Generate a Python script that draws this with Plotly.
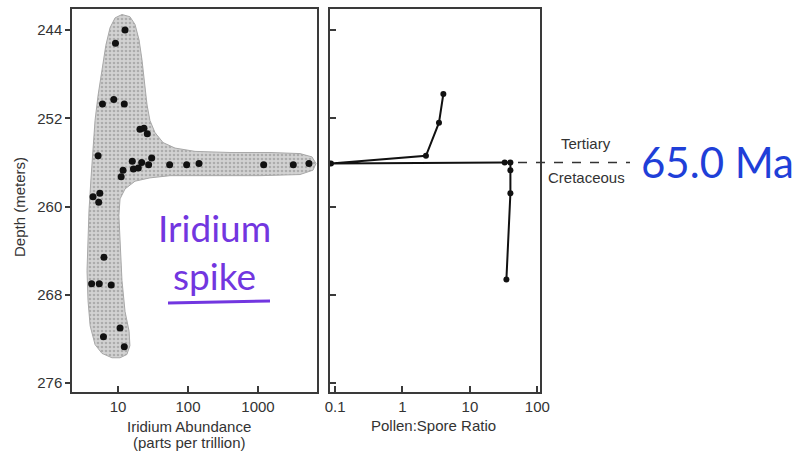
import plotly.graph_objects as go

# ---- data ----
ir_abundance = [12.6, 9.2, 6.0, 8.7, 12.3, 20.6, 23.5, 26.2, 5.2, 16.0, 21.8, 30.3, 27.4,
                16.6, 19.5, 11.8, 11.1, 54.7, 95.7, 143.6, 1205, 3195, 5350, 4.4, 5.5,
                5.3, 6.3, 4.2, 5.4, 8.0, 10.7, 6.2, 12.3]
ir_depth = [244.0, 245.2, 250.7, 250.3, 250.7, 253.0, 252.9, 253.4, 255.4, 255.9, 256.0, 255.6, 256.2,
            256.6, 256.5, 256.7, 257.3, 256.2, 256.2, 256.1, 256.2, 256.2, 256.1, 259.1, 258.8,
            259.6, 264.6, 267.0, 267.0, 267.1, 271.0, 271.8, 272.7]

# envelope (grey band) around iridium values
band_x = [11.4, 14.8, 17.5, 20.0, 22.0, 24.3, 26.0, 28.6, 33.8, 44.0, 65.2, 126, 398, 1484, 3981,
          5906, 6740, 6105, 3981, 1068, 206, 55.3, 28.6, 17.5, 12.6, 10.7, 10.3, 10.7, 11.4, 12.6,
          14.4, 14.8, 13.4, 10.7, 8.2, 5.9, 4.7, 4.0, 3.73, 3.61, 3.73, 3.85, 4.1, 4.4, 4.7, 5.2,
          5.9, 6.7, 7.7, 9.1, 11.4]
band_depth = [242.6, 242.8, 243.5, 244.9, 246.7, 249.0, 250.8, 252.2, 253.3, 254.2, 254.7, 255.0,
              255.1, 255.1, 255.2, 255.5, 256.1, 256.7, 257.1, 257.2, 257.2, 257.2, 257.4, 257.7,
              258.4, 259.3, 260.8, 263.1, 266.7, 269.5, 271.3, 272.6, 273.4, 273.7, 273.7, 273.3,
              272.5, 270.8, 268.5, 265.8, 263.1, 260.4, 257.6, 254.9, 252.2, 249.9, 247.6, 245.4,
              243.8, 242.9, 242.6]

ps_ratio = [4.04, 3.48, 2.23, 0.087, 32.8, 39.9, 39.9, 39.9, 34.8]
ps_depth = [249.8, 252.4, 255.4, 256.1, 256.0, 256.0, 256.7, 258.8, 266.6]

depth_ticks = [244, 252, 260, 268, 276]
ir_ticks = [10, 100, 1000]
ir_ticktext = ["10", "100", "1000"]
ps_ticks = [0.1, 1, 10, 100]
ps_ticktext = ["0.1", "1", "10", "100"]
boundary_depth = 256.0

W, H = 794, 452
FONT = "Liberation Sans, Arial, sans-serif"
AX = "#3a3a3a"

fig = go.Figure()

fig.add_trace(go.Scatter(
    x=band_x, y=band_depth, mode="lines", fill="toself",
    fillcolor="#cdcdcd",
    fillpattern=dict(shape=".", fgcolor="#858585", bgcolor="#d2d2d2", size=4, solidity=0.35),
    line=dict(color="#a8a8a8", width=1), hoverinfo="skip", showlegend=False,
    xaxis="x", yaxis="y"))

fig.add_trace(go.Scatter(
    x=ir_abundance, y=ir_depth, mode="markers",
    marker=dict(color="#111111", size=7), showlegend=False, xaxis="x", yaxis="y"))

fig.add_trace(go.Scatter(
    x=ps_ratio, y=ps_depth, mode="lines+markers",
    line=dict(color="#111111", width=2), marker=dict(color="#111111", size=6),
    showlegend=False, xaxis="x2", yaxis="y2"))

yrange = [276.8, 242.1]
common_ax = dict(showline=True, mirror=True, linecolor=AX, linewidth=1.5, showgrid=False,
                 zeroline=False, ticks="inside", ticklen=6, tickcolor=AX, tickwidth=1.5,
                 tickfont=dict(family=FONT, size=15, color="#333333"), automargin=False)

fig.update_layout(
    width=W, height=H, margin=dict(l=0, r=0, t=0, b=0),
    paper_bgcolor="white", plot_bgcolor="white",
    xaxis=dict(type="log", domain=[72 / W, 317 / W], range=[0.343, 3.843],
               tickvals=ir_ticks, ticktext=ir_ticktext, anchor="y", **common_ax),
    yaxis=dict(domain=[1 - 392 / H, 1 - 9 / H], range=yrange, tickvals=depth_ticks,
               anchor="x", **{**common_ax, "ticks": "outside", "ticklen": 5}),
    xaxis2=dict(type="log", domain=[330 / W, 540 / W], range=[-1.075, 2.04],
                tickvals=ps_ticks, ticktext=ps_ticktext, anchor="y2", **common_ax),
    yaxis2=dict(domain=[1 - 392 / H, 1 - 9 / H], range=yrange, tickvals=depth_ticks,
                showticklabels=False, anchor="x2", **common_ax),
)

# boundary dashed line
fig.add_shape(type="line", xref="paper", yref="y2", x0=518 / W, x1=630 / W,
              y0=boundary_depth, y1=boundary_depth,
              line=dict(color="#333333", width=1.5, dash="dash"))

def ann(text, x, y, size=15, color="#333333", angle=0, family=FONT):
    fig.add_annotation(text=text, x=x / W, y=1 - y / H, xref="paper", yref="paper",
                       showarrow=False, textangle=angle, xanchor="center", yanchor="middle",
                       align="center", font=dict(family=family, size=size, color=color))

ann("Depth (meters)", 19, 207, angle=-90)
ann("Iridium Abundance", 189, 426)
ann("(parts per trillion)", 189, 442)
ann("Pollen:Spore Ratio", 433, 425)
ann("Tertiary", 586, 143)
ann("Cretaceous", 586, 177)

# handwritten notes
ann("65.0 Ma", 717, 162, size=42, color="#1f3fd8", family="Lato, sans-serif")
ann("Iridium<br>spike", 214, 251, size=37, color="#7236e0", family="Lato, sans-serif")
fig.add_shape(type="line", xref="paper", yref="paper", x0=168 / W, x1=270 / W,
              y0=1 - 303 / H, y1=1 - 301 / H, line=dict(color="#7236e0", width=3))

fig.write_html("out.html", config={"displayModeBar": False},
               post_script="document.body.style.margin='0';")
